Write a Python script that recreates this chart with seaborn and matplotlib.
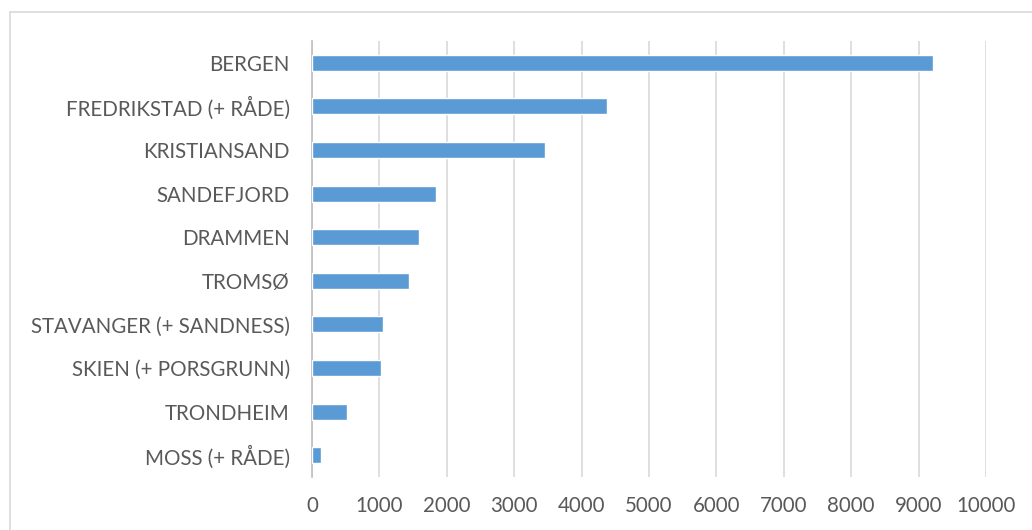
import matplotlib
matplotlib.use("Agg")
import matplotlib.pyplot as plt
import seaborn as sns
import pandas as pd
from matplotlib.patches import Rectangle

cities = [
    "BERGEN",
    "FREDRIKSTAD (+ RÅDE)",
    "KRISTIANSAND",
    "SANDEFJORD",
    "DRAMMEN",
    "TROMSØ",
    "STAVANGER (+ SANDNESS)",
    "SKIEN (+ PORSGRUNN)",
    "TRONDHEIM",
    "MOSS (+ RÅDE)",
]
values = [9220, 4370, 3460, 1845, 1590, 1435, 1060, 1020, 515, 140]
x_ticks = [0, 1000, 2000, 3000, 4000, 5000, 6000, 7000, 8000, 9000, 10000]

sns.set_theme(style="white")
plt.rcParams["font.family"] = ["Lato", "DejaVu Sans"]

text_color = "#595959"
grid_color = "#d9d9d9"
bar_color = "#5b9bd5"

df = pd.DataFrame({"city": cities, "value": values})

fig = plt.figure(figsize=(10.32, 5.30), dpi=100)
ax = fig.add_axes([312 / 1032, 1 - 477 / 530, (986 - 312) / 1032, (477 - 41) / 530])

sns.barplot(data=df, x="value", y="city", orient="h", color=bar_color,
            width=0.37, saturation=1, ax=ax, zorder=3)

ax.set_xlim(0, 10000)
ax.set_xticks(x_ticks)
ax.set_xticklabels([str(t) for t in x_ticks])
ax.set_xlabel("")
ax.set_ylabel("")
ax.xaxis.grid(True, color=grid_color, linewidth=1.2)
ax.yaxis.grid(False)
for side in ["top", "right", "bottom"]:
    ax.spines[side].set_visible(False)
ax.spines["left"].set_color("#bfbfbf")
ax.spines["left"].set_linewidth(1.2)
ax.tick_params(axis="both", length=0, labelsize=14.8, labelcolor=text_color)
ax.tick_params(axis="y", pad=16)
ax.tick_params(axis="x", pad=14)

# chart frame
fig.patches.append(Rectangle((10 / 1032, -0.1), 1.2, 1.1 - 12 / 530,
                             transform=fig.transFigure, fill=False,
                             edgecolor=grid_color, linewidth=1.2))

fig.savefig("out.png", dpi=100)
